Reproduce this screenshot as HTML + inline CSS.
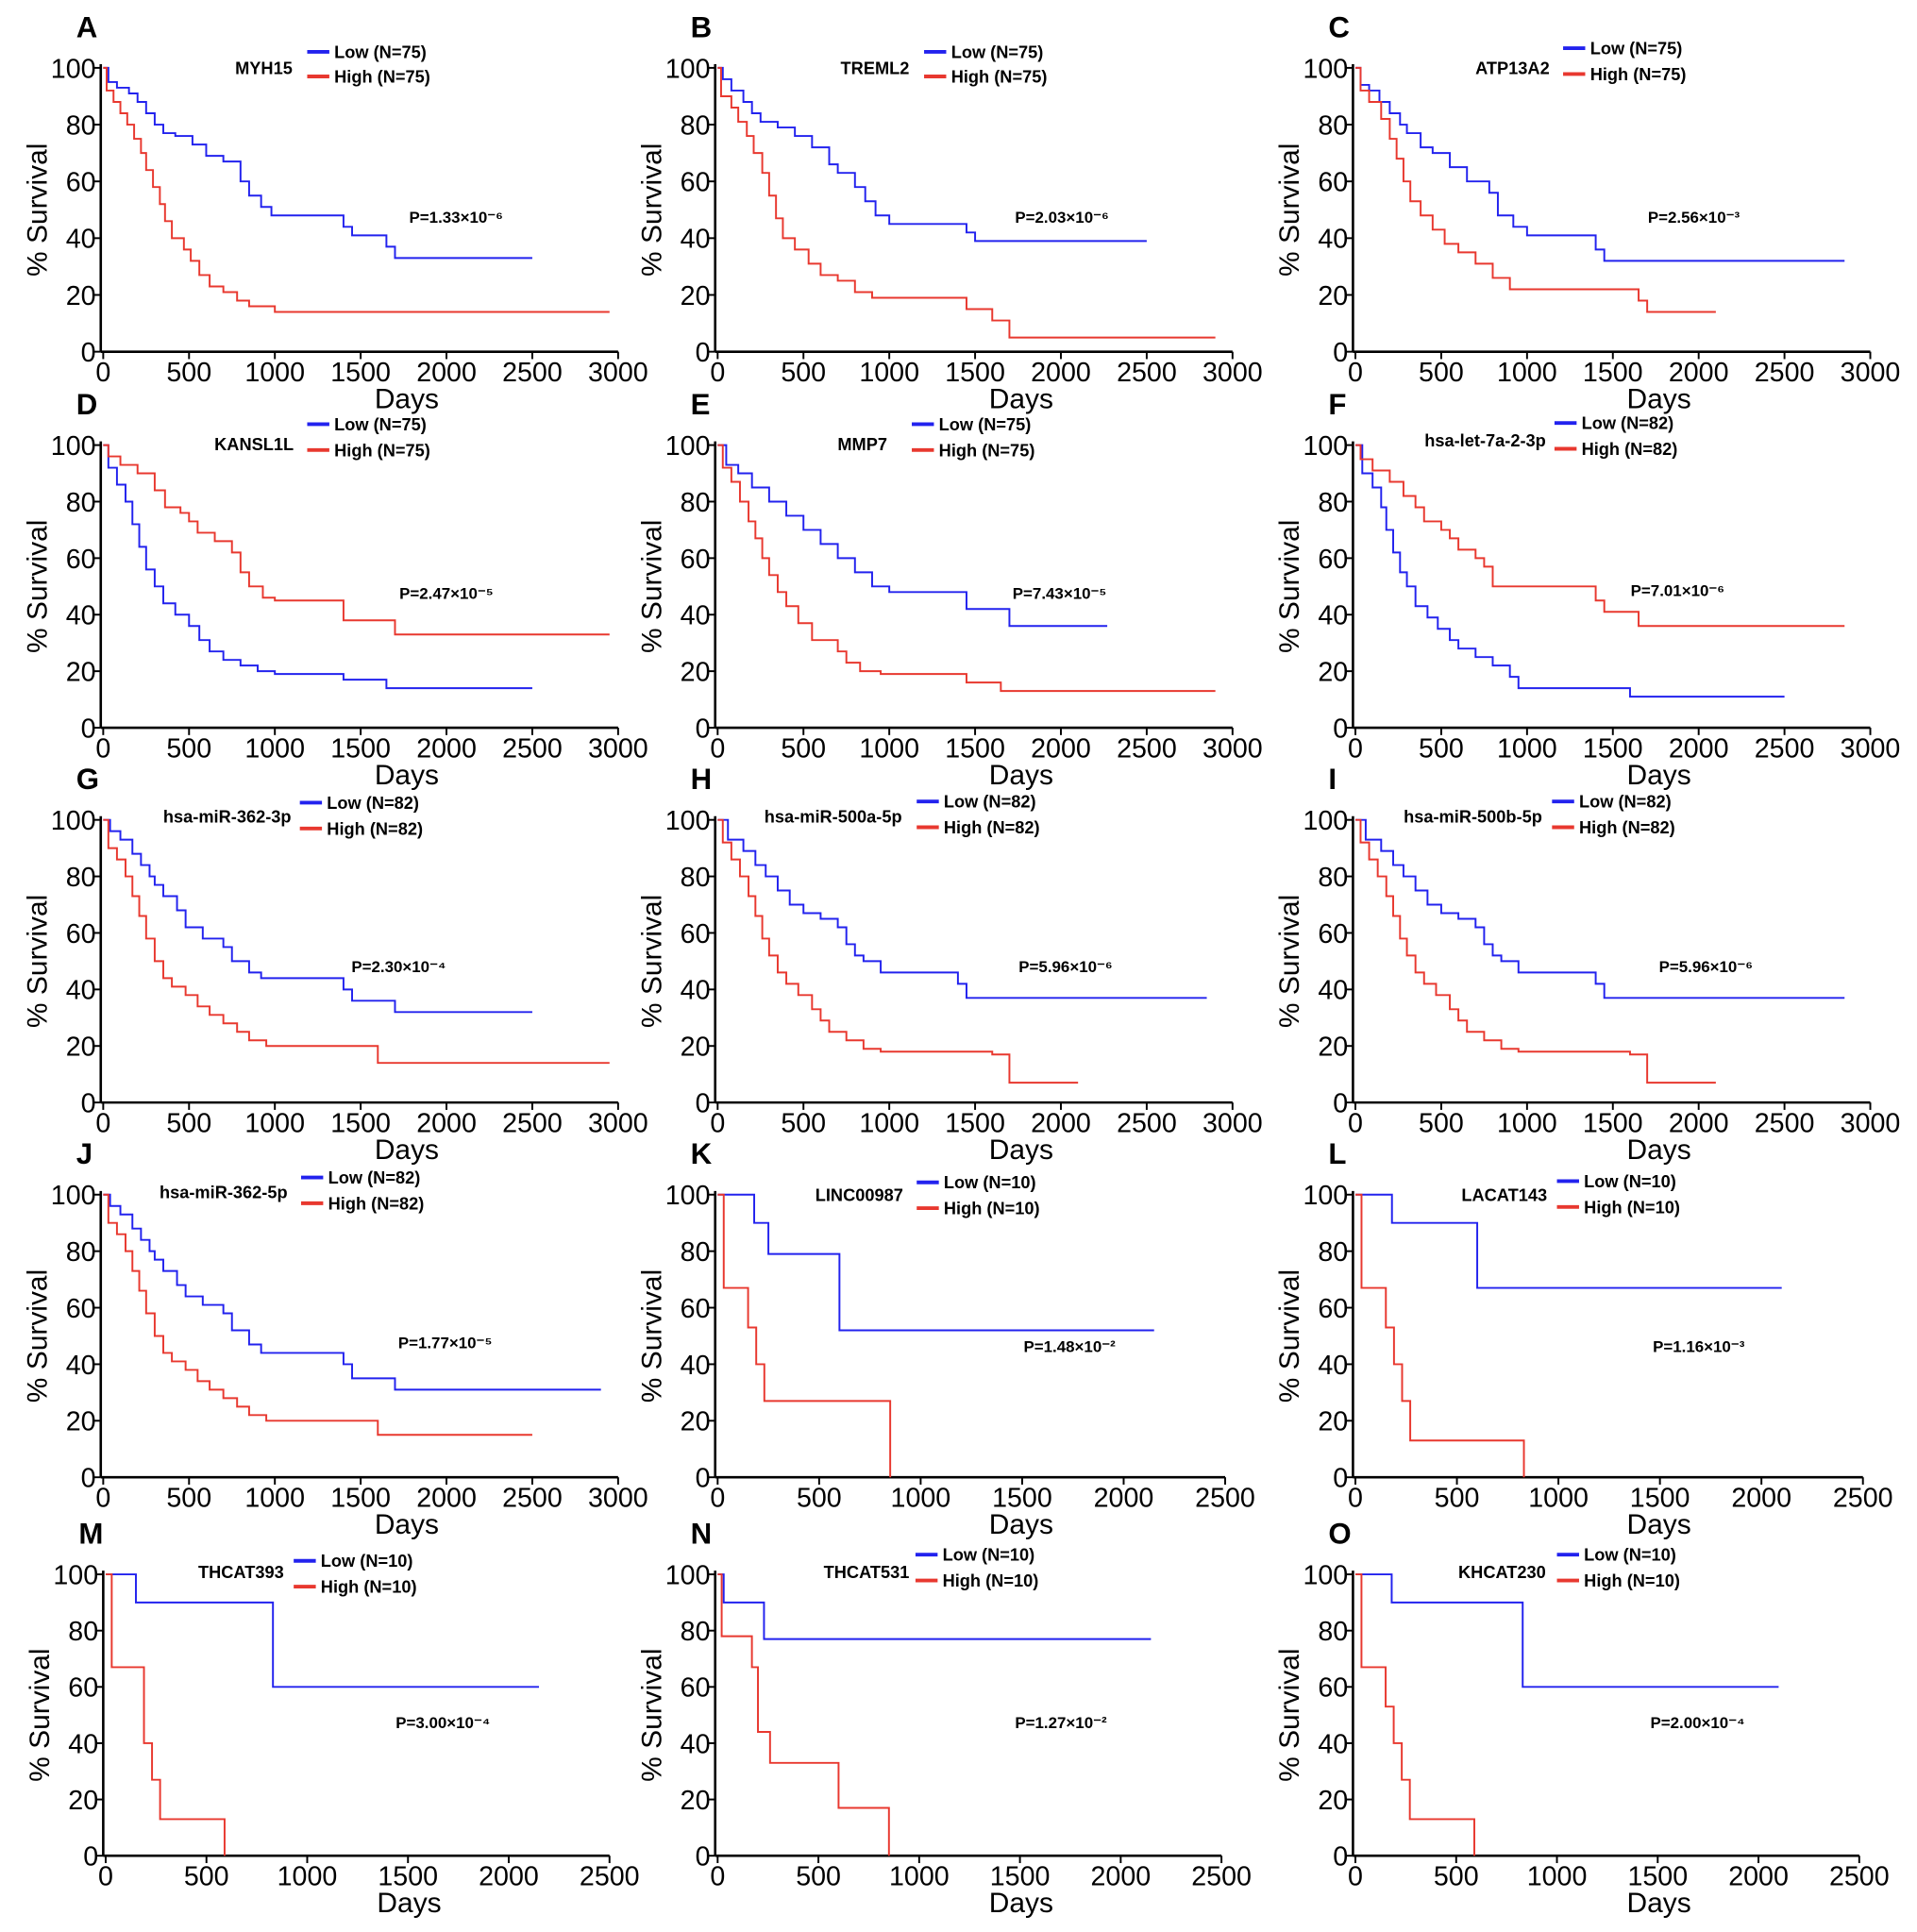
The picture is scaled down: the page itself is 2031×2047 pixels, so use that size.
<!DOCTYPE html>
<html><head><meta charset="utf-8">
<style>
html,body{margin:0;padding:0;background:#fff;}
svg text{font-family:"Liberation Sans",Arial,sans-serif;}
</style></head>
<body>
<svg id="chart" width="2031" height="2042" viewBox="0 0 1560 1568" xmlns="http://www.w3.org/2000/svg"></svg>
<script>
// ---- data: [days, % survival] step points; last point = end of follow-up ----
const lowA=[[0,100],[30,95],[80,93],[150,91],[200,88],[250,84],[300,80],[350,77],[420,76],[520,73],[600,69],[700,67],[800,60],[850,55],[920,51],[980,48],[1400,44],[1450,41],[1650,37],[1700,33],[2500,33]];
const highA=[[0,100],[20,92],[60,88],[100,84],[140,80],[180,75],[220,70],[250,64],[290,58],[330,52],[360,46],[400,40],[470,36],[510,32],[560,27],[620,23],[700,21],[780,18],[850,16],[1000,14],[2950,14]];
const lowB=[[0,100],[30,96],[80,92],[150,88],[200,84],[250,81],[350,79],[450,76],[550,72],[650,66],[700,63],[800,58],[860,53],[920,48],[1000,45],[1450,42],[1500,39],[2500,39]];
const highB=[[0,100],[20,90],[80,86],[120,81],[170,76],[210,70],[260,63],[300,55],[340,47],[380,40],[450,36],[530,31],[600,27],[700,25],[800,21],[900,19],[1450,15],[1600,11],[1700,5],[2900,5]];
const lowC=[[0,100],[30,94],[80,92],[140,88],[200,84],[260,80],[300,77],[380,72],[450,70],[550,65],[650,60],[780,56],[830,48],[920,44],[1000,41],[1400,36],[1450,32],[2850,32]];
const highC=[[0,100],[30,92],[80,88],[150,82],[200,75],[240,68],[280,60],[320,53],[380,48],[450,43],[520,38],[600,35],[700,31],[800,26],[900,22],[1650,18],[1700,14],[2100,14]];
const lowD=[[0,100],[30,92],[80,86],[130,80],[170,72],[210,64],[250,56],[300,50],[350,44],[420,40],[500,36],[560,31],[620,27],[700,24],[800,22],[900,20],[1000,19],[1400,17],[1650,14],[2500,14]];
const highD=[[0,100],[30,96],[100,93],[200,90],[300,84],[360,78],[450,76],[500,73],[550,69],[650,66],[750,62],[800,55],[850,50],[930,46],[1000,45],[1400,38],[1700,33],[2950,33]];
const lowE=[[0,100],[50,93],[120,90],[200,85],[300,80],[400,75],[500,70],[600,65],[700,60],[800,55],[900,50],[1000,48],[1450,42],[1700,36],[2270,36]];
const highE=[[0,100],[30,92],[80,87],[130,80],[180,73],[220,67],[260,60],[300,54],[350,48],[400,43],[470,37],[550,31],[700,27],[750,23],[830,20],[950,19],[1450,16],[1650,13],[2900,13]];
const lowF=[[0,100],[40,90],[100,85],[150,78],[180,70],[220,62],[260,55],[300,50],[350,43],[420,39],[480,35],[550,31],[600,28],[700,25],[800,22],[900,18],[950,14],[1600,11],[2500,11]];
const highF=[[0,100],[30,95],[100,91],[200,87],[280,82],[350,78],[400,73],[500,70],[550,67],[600,63],[700,60],[750,57],[800,50],[1400,45],[1450,41],[1650,36],[2850,36]];
const lowG=[[0,100],[40,96],[100,93],[170,88],[220,84],[270,80],[300,77],[350,73],[430,68],[480,62],[580,58],[700,55],[750,50],[850,46],[920,44],[1400,40],[1450,36],[1700,32],[2500,32]];
const highG=[[0,100],[30,90],[80,86],[130,80],[170,73],[210,66],[250,58],[300,50],[350,44],[400,41],[480,38],[550,34],[620,31],[700,28],[780,25],[850,22],[950,20],[1600,14],[2950,14]];
const lowH=[[0,100],[60,93],[150,89],[220,84],[280,80],[350,75],[420,70],[500,67],[600,65],[700,62],[750,56],[800,52],[850,50],[950,46],[1400,42],[1450,37],[2850,37]];
const highH=[[0,100],[30,92],[80,86],[130,80],[180,73],[220,66],[260,58],[300,52],[350,46],[400,42],[470,38],[550,33],[600,29],[650,25],[750,22],[850,19],[950,18],[1600,17],[1700,7],[2100,7]];
const lowI=[[0,100],[60,93],[150,89],[220,84],[280,80],[350,75],[420,70],[500,67],[600,65],[700,62],[750,56],[800,52],[850,50],[950,46],[1400,42],[1450,37],[2850,37]];
const highI=[[0,100],[30,92],[80,86],[130,80],[180,73],[220,66],[260,58],[300,52],[350,46],[400,42],[470,38],[550,33],[600,29],[650,25],[750,22],[850,19],[950,18],[1600,17],[1700,7],[2100,7]];
const lowJ=[[0,100],[40,96],[100,93],[170,88],[220,84],[270,80],[300,77],[350,73],[430,68],[480,64],[580,61],[700,58],[750,52],[850,47],[920,44],[1400,40],[1450,35],[1700,31],[2900,31]];
const highJ=[[0,100],[30,90],[80,86],[130,80],[170,73],[210,66],[250,58],[300,50],[350,44],[400,41],[480,38],[550,34],[620,31],[700,28],[780,25],[850,22],[950,20],[1600,15],[2500,15]];
const lowK=[[0,100],[180,90],[250,79],[600,52],[2150,52]];
const highK=[[0,100],[30,67],[150,53],[190,40],[230,27],[850,0],[850,0]];
const lowL=[[0,100],[180,90],[600,67],[2100,67]];
const highL=[[0,100],[30,67],[150,53],[190,40],[230,27],[270,13],[830,0],[830,0]];
const lowM=[[0,100],[150,90],[830,60],[2150,60]];
const highM=[[0,100],[30,67],[190,40],[230,27],[270,13],[590,0],[590,0]];
const lowN=[[0,100],[30,90],[230,77],[2150,77]];
const highN=[[0,100],[20,78],[170,67],[200,44],[260,33],[600,17],[850,0],[850,0]];
const lowO=[[0,100],[180,90],[830,60],[2100,60]];
const highO=[[0,100],[30,67],[150,53],[190,40],[230,27],[270,13],[590,0],[590,0]];
const genes=["MYH15","TREML2","ATP13A2","KANSL1L","MMP7","hsa-let-7a-2-3p","hsa-miR-362-3p","hsa-miR-500a-5p","hsa-miR-500b-5p","hsa-miR-362-5p","LINC00987","LACAT143","THCAT393","THCAT531","KHCAT230"];
const nLabels=[75,75,75,75,75,82,82,82,82,82,10,10,10,10,10];
const pValues=["P=1.33×10⁻⁶","P=2.03×10⁻⁶","P=2.56×10⁻³","P=2.47×10⁻⁵","P=7.43×10⁻⁵","P=7.01×10⁻⁶","P=2.30×10⁻⁴","P=5.96×10⁻⁶","P=5.96×10⁻⁶","P=1.77×10⁻⁵","P=1.48×10⁻²","P=1.16×10⁻³","P=3.00×10⁻⁴","P=1.27×10⁻²","P=2.00×10⁻⁴"];
const lowSeries=[lowA,lowB,lowC,lowD,lowE,lowF,lowG,lowH,lowI,lowJ,lowK,lowL,lowM,lowN,lowO];
const highSeries=[highA,highB,highC,highD,highE,highF,highG,highH,highI,highJ,highK,highL,highM,highN,highO];
const yTicks=[0,20,40,60,80,100];
const xTicks3000=[0,500,1000,1500,2000,2500,3000];
const xTicks2500=[0,500,1000,1500,2000,2500];

// ---- layout ----
const letters="ABCDEFGHIJKLMNO";
const colX=[84,584,1103];
const rowY=[[55,286],[362,592],[667,897],[972,1202],[1281,1510]];
const leg=[[238,55,250,47,67,333,176],[740,55,752,47,67,826,176],[1261,55,1272,44,65,1341,176],
[239,361,250,350,371,325,482],[722,361,742,350,371,824,482],[1258,358,1265,349,370,1327,480],
[237,664,244,658,679,286,786],[734,664,746,657,678,829,786],[1255,664,1263,657,678,1350,786],
[234,970,245,963,984,324,1092],[735,972,746,967,988,833,1095],[1259,972,1267,966,987,1345,1095],
[231,1279,239,1275,1296,322,1401],[740,1279,745,1270,1291,826,1401],[1258,1279,1267,1270,1291,1343,1401]];
const NS="http://www.w3.org/2000/svg";
const svg=document.getElementById('chart');
function el(tag,attrs,parent,txt){const e=document.createElementNS(NS,tag);for(const k in attrs)e.setAttribute(k,attrs[k]);if(txt!==undefined)e.textContent=txt;(parent||svg).appendChild(e);return e;}

for(let i=0;i<15;i++){
  const r=Math.floor(i/3),c=i%3;
  const ox=colX[c]+(i>=12&&c===0?2:0);
  const y100=rowY[r][0],y0=rowY[r][1];
  const is2500=i>=10;
  const xmax=is2500?2500:3000;
  const w=is2500?(i>=12?410:413):419;
  const X=d=>ox+d/xmax*w;
  const Y=s=>y0-(s/100)*(y0-y100);
  const g=el('g',{});
  
  
  const lt=el('text',{x:ox-22,y:y100-25,'font-size':24,'font-weight':'bold'},g,letters[i]);
  
  
  const ya=el('line',{x1:ox-2,y1:y100-3,x2:ox-2,y2:y0,stroke:'#000','stroke-width':2},g);
  
  const xa=el('line',{x1:ox-2,y1:y0,x2:ox+w,y2:y0,stroke:'#000','stroke-width':2},g);
  
  yTicks.forEach(t=>{
    el('line',{x1:ox-8,y1:Y(t),x2:ox-2,y2:Y(t),stroke:'#000','stroke-width':1.5},g);
    const tx=el('text',{x:ox-6,y:Y(t)+8,'font-size':22,'text-anchor':'end'},g,String(t));
    
  });
  (is2500?xTicks2500:xTicks3000).forEach(t=>{
    el('line',{x1:X(t),y1:y0,x2:X(t),y2:y0+6,stroke:'#000','stroke-width':1.5},g);
    const tx=el('text',{x:X(t),y:y0+24,'font-size':22,'text-anchor':'middle'},g,String(t));
    
  });
  const xt=el('text',{x:ox+247,y:y0+46,'font-size':23,'text-anchor':'middle'},g,'Days');
  
  const ym=(y0+y100)/2;
  const yt=el('text',{x:ox-46,y:ym,'font-size':23,'text-anchor':'middle',transform:`rotate(-90 ${ox-46} ${ym})`},g,'% Survival');
  
  [[lowSeries[i],'#2222ee','low-curve'],[highSeries[i],'#e8382f','high-curve']].forEach(([pts,col,nm])=>{
    let d=`M${X(pts[0][0])},${Y(pts[0][1])}`;
    for(let k=1;k<pts.length;k++){d+=` H${X(pts[k][0])} V${Y(pts[k][1])}`;}
    const p=el('path',{d:d,fill:'none',stroke:col,'stroke-width':1.5},g);
    
  });
  const L=leg[i];
  const gt=el('text',{x:L[0],y:L[1]+5,'font-size':14,'font-weight':'bold','text-anchor':'end'},g,genes[i]);
  
  const l1=el('line',{x1:L[2],y1:L[3]-5,x2:L[2]+18,y2:L[3]-5,stroke:'#2222ee','stroke-width':3},g);
  
  const t1=el('text',{x:L[2]+22,y:L[3],'font-size':14,'font-weight':'bold'},g,`Low (N=${nLabels[i]})`);
  
  const l2=el('line',{x1:L[2],y1:L[4]-5,x2:L[2]+18,y2:L[4]-5,stroke:'#e8382f','stroke-width':3},g);
  
  const t2=el('text',{x:L[2]+22,y:L[4],'font-size':14,'font-weight':'bold'},g,`High (N=${nLabels[i]})`);
  
  const pt=el('text',{x:L[5],y:L[6]+5,'font-size':13,'font-weight':'bold'},g,pValues[i]);
  
}
</script>
</body></html>
